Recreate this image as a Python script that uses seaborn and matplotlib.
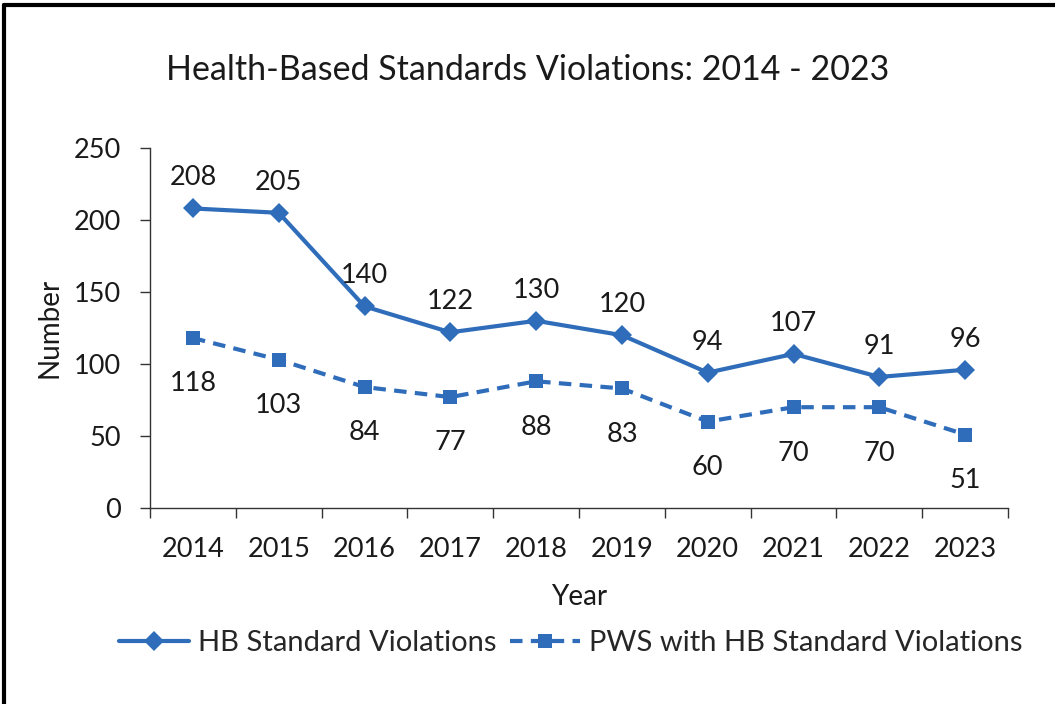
import pandas as pd
import numpy as np
import matplotlib.pyplot as plt
from matplotlib.lines import Line2D
from matplotlib.ticker import FixedLocator
import seaborn as sns

# Data
years = ['2014', '2015', '2016', '2017', '2018', '2019', '2020', '2021', '2022', '2023']
hb_violations = [208, 205, 140, 122, 130, 120, 94, 107, 91, 96]
pws_violations = [118, 103, 84, 77, 88, 83, 60, 70, 70, 51]
series_names = ['HB Standard Violations', 'PWS with HB Standard Violations']

df = pd.DataFrame({
    'pos': list(range(len(years))) * 2,
    'Number': hb_violations + pws_violations,
    'series': [series_names[0]] * len(years) + [series_names[1]] * len(years),
})

blue = '#2F6DBA'
text_col = '#1a1a1a'
sns.set_style('white')
plt.rcParams['font.family'] = ['Lato', 'DejaVu Sans']

fig = plt.figure(figsize=(10.55, 7.04), dpi=100)
ax = fig.add_axes([0.1422, 0.2784, 0.8133, 0.5114])

sns.lineplot(
    data=df, x='pos', y='Number', hue='series', style='series',
    palette={series_names[0]: blue, series_names[1]: blue},
    dashes={series_names[0]: '', series_names[1]: (3, 2)},
    markers={series_names[0]: 'D', series_names[1]: 's'},
    markersize=10, linewidth=3, markeredgewidth=0,
    legend=False, ax=ax,
)

# Data labels
for i, v in enumerate(hb_violations):
    ax.annotate(str(v), (i, v), xytext=(0, 13), textcoords='offset points',
                ha='center', va='bottom', fontsize=19.5, color=text_col)
for i, v in enumerate(pws_violations):
    ax.annotate(str(v), (i, v), xytext=(0, -24), textcoords='offset points',
                ha='center', va='top', fontsize=19.5, color=text_col)

ax.set_xlim(-0.5, len(years) - 0.5)
ax.set_ylim(0, 250)
ax.set_yticks(range(0, 251, 50))
ax.set_xticks(range(len(years)))
ax.set_xticklabels(years)
ax.xaxis.set_minor_locator(FixedLocator(np.arange(-0.5, len(years), 1.0)))

ax.tick_params(axis='x', which='major', length=0, pad=21, labelsize=19.5, labelcolor=text_col)
ax.tick_params(axis='x', which='minor', length=7, width=1, direction='out', bottom=True, color='#333333')
ax.tick_params(axis='y', which='major', length=7, width=1, direction='out', left=True,
               labelsize=19.5, labelcolor=text_col, pad=14, color='#333333')

for side in ['top', 'right']:
    ax.spines[side].set_visible(False)
for side in ['left', 'bottom']:
    ax.spines[side].set_color('#333333')
    ax.spines[side].set_linewidth(1)

ax.set_xlabel('Year', fontsize=20, color=text_col, labelpad=16)
ax.set_ylabel('Number', fontsize=20, color=text_col, labelpad=8)

fig.text(0.5, 0.9, 'Health-Based Standards Violations: 2014 - 2023',
         ha='center', va='center', fontsize=24.5, color=text_col)

# Legend
handles = [
    Line2D([], [], color=blue, lw=3, marker='D', markersize=10, markeredgewidth=0),
    Line2D([], [], color=blue, lw=3, ls=(0, (3, 2)), marker='s', markersize=10, markeredgewidth=0),
]
fig.legend(handles, series_names, loc='center', bbox_to_anchor=(0.541, 0.086), ncol=2,
           frameon=False, fontsize=21, handlelength=2.4, columnspacing=0.45, handletextpad=0.3)

# Black border on top and left of the picture
fig.add_artist(Line2D([0.004, 0.004], [0, 0.993], color='black', lw=3, transform=fig.transFigure))
fig.add_artist(Line2D([0.004, 1.0], [0.993, 0.993], color='black', lw=3, transform=fig.transFigure))

fig.savefig('out.png', dpi=100)
